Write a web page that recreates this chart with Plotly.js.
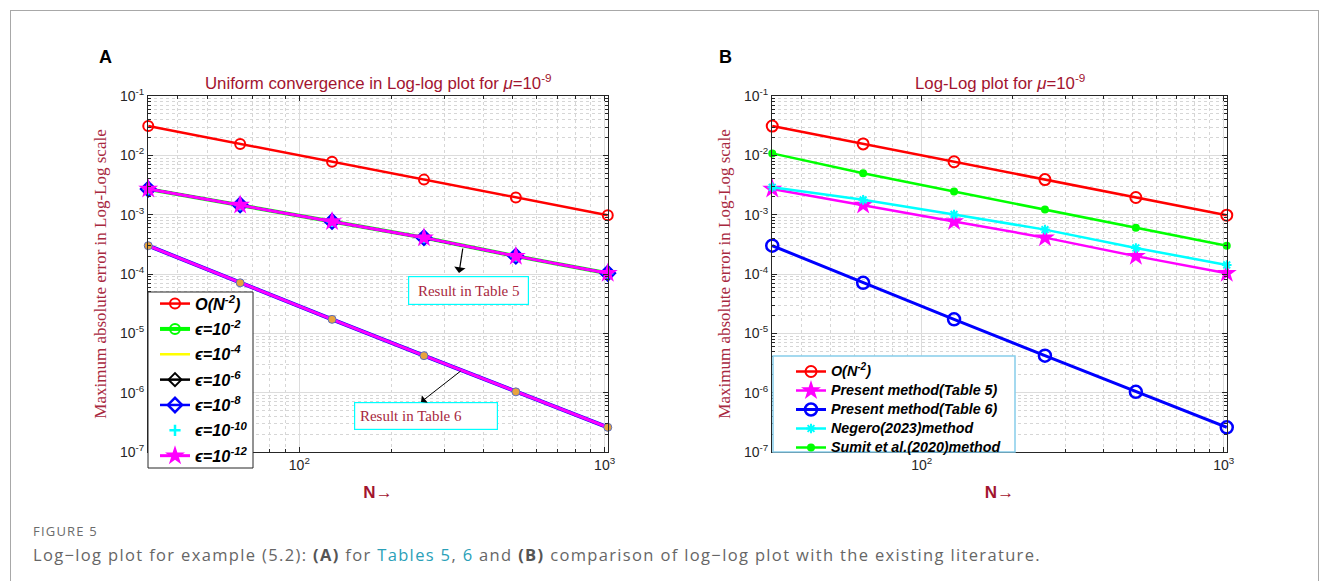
<!DOCTYPE html>
<html>
<head>
<meta charset="utf-8">
<script src="https://cdn.plot.ly/plotly-3.0.1.min.js"></script>
<style>
  html, body { margin:0; padding:0; background:#fff; }
  #wrap { position:relative; width:1330px; height:581px; overflow:hidden; }
  #frame { position:absolute; left:10px; top:10px; width:1309px; height:620px; border:1px solid #a8a8a8; box-sizing:border-box; }
  #chart { position:absolute; left:0; top:0; width:1330px; height:581px; }
  .cap1 { position:absolute; left:33px; top:522px; font-family:"Open Sans", sans-serif; font-size:13px; color:#6b6b6b; letter-spacing:1.2px; }
  .cap2 { position:absolute; left:33px; top:543px; font-family:"Open Sans", sans-serif; font-size:16.5px; color:#666; letter-spacing:1.35px; white-space:nowrap; }
  .cap2 a { color:#2aa0b8; text-decoration:none; }
  .cap2 b { color:#555; }
</style>
</head>
<body>
<div id="wrap">
  <div id="frame"></div>
  <div id="chart"></div>
  <div class="cap1">FIGURE 5</div>
  <div class="cap2">Log−log plot for example (5.2): <b>(A)</b> for <a>Tables 5</a>, <a>6</a> and <b>(B)</b> comparison of log−log plot with the existing literature.</div>
</div>
<script>
// ---------------- data ----------------
const N = [32, 64, 128, 256, 512, 1024];
const orderRef = [0.0312, 0.0156, 0.0078, 0.0039, 0.00195, 0.00098];
const table5 = [0.0027, 0.00146, 0.00077, 0.00041, 0.0002, 0.000103];
const table6 = [0.0003, 0.000071, 0.0000172, 0.0000042, 0.00000103, 0.00000026];
const negero = [0.0029, 0.00178, 0.00101, 0.00056, 0.000275, 0.000142];
const sumit = [0.0108, 0.0050, 0.00245, 0.00122, 0.0006, 0.0003];

const xTickVals = [100, 1000];
const xTickText = ['10<sup>2</sup>', '10<sup>3</sup>'];
const yTickVals = [1e-7, 1e-6, 1e-5, 1e-4, 1e-3, 1e-2, 1e-1];
const yTickText = ['10<sup>-7</sup>', '10<sup>-6</sup>', '10<sup>-5</sup>', '10<sup>-4</sup>', '10<sup>-3</sup>', '10<sup>-2</sup>', '10<sup>-1</sup>'];

const legendA = ['O(N<sup>-2</sup>)', 'ϵ=10<sup>-2</sup>', 'ϵ=10<sup>-4</sup>', 'ϵ=10<sup>-6</sup>', 'ϵ=10<sup>-8</sup>', 'ϵ=10<sup>-10</sup>', 'ϵ=10<sup>-12</sup>'];
const legendB = ['O(N<sup>-2</sup>)', 'Present method(Table 5)', 'Present method(Table 6)', 'Negero(2023)method', 'Sumit et al.(2020)method'];

// ---------------- styles ----------------
const RED = '#ff0000', GREEN = '#00ff00', YEL = '#ffff00', BLK = '#000000', BLUE = '#0000ff', CYAN = '#00ffff', MAG = '#ff00ff', ORA = '#e8a33d';
const DARKRED = '#a2142f';
const spanA = t => '<span style="font-size:16.3px">' + t + '</span>';
const spanB = t => '<span style="font-size:14.3px">' + t + '</span>';

function tr(x, y, opts) {
  return Object.assign({x: x, y: y, type: 'scatter', cliponaxis: false, hoverinfo: 'skip'}, opts);
}

const traces = [];
// Panel A
traces.push(tr(N, orderRef, {xaxis:'x', yaxis:'y', mode:'lines+markers', name: spanA(legendA[0]), legendgroup:'a0', legend:'legend',
  line:{color:RED, width:2.5}, marker:{symbol:'circle-open', size:10, color:RED, line:{width:2}}}));
traces.push(tr(N, table5, {xaxis:'x', yaxis:'y', mode:'lines+markers', name: spanA(legendA[1]), legendgroup:'a1', legend:'legend',
  line:{color:GREEN, width:4}, marker:{symbol:'circle-open', size:10, color:GREEN, line:{width:2}}}));
traces.push(tr(N, table5, {xaxis:'x', yaxis:'y', mode:'lines', name: spanA(legendA[2]), legendgroup:'a2', legend:'legend',
  line:{color:YEL, width:2.5}}));
traces.push(tr(N, table5, {xaxis:'x', yaxis:'y', mode:'lines+markers', name: spanA(legendA[3]), legendgroup:'a3', legend:'legend',
  line:{color:BLK, width:2.5}, marker:{symbol:'diamond-open', size:10, color:BLK, line:{width:2}}}));
traces.push(tr(N, table5, {xaxis:'x', yaxis:'y', mode:'lines+markers', name: spanA(legendA[4]), legendgroup:'a4', legend:'legend',
  line:{color:BLUE, width:2.5}, marker:{symbol:'diamond-open', size:11, color:BLUE, line:{width:2.5, color:BLUE}}}));
traces.push(tr(N, table5, {xaxis:'x', yaxis:'y', mode:'markers', name: spanA(legendA[5]), legendgroup:'a5', legend:'legend',
  marker:{symbol:'cross-thin', size:8, color:CYAN, line:{width:2.5, color:CYAN}}}));
traces.push(tr(N, table5, {xaxis:'x', yaxis:'y', mode:'lines+markers', name: spanA(legendA[6]), legendgroup:'a6', legend:'legend',
  line:{color:MAG, width:3}, marker:{symbol:'star', size:15, color:MAG, line:{width:0}}}));
// Panel A lower group (Table 6 results, not in legend)
traces.push(tr(N, table6, {xaxis:'x', yaxis:'y', mode:'lines', showlegend:false, line:{color:BLUE, width:4}}));
traces.push(tr(N, table6, {xaxis:'x', yaxis:'y', mode:'lines', showlegend:false, line:{color:MAG, width:3}}));
traces.push(tr(N, table6, {xaxis:'x', yaxis:'y', mode:'markers', showlegend:false,
  marker:{symbol:'circle', size:8, color:ORA, line:{width:1, color:'#5a6fc0'}}}));

// Panel B
traces.push(tr(N, orderRef, {xaxis:'x2', yaxis:'y2', mode:'lines+markers', name: spanB(legendB[0]), legend:'legend2',
  line:{color:RED, width:2.5}, marker:{symbol:'circle-open', size:11, color:RED, line:{width:2}}}));
traces.push(tr(N, table5, {xaxis:'x2', yaxis:'y2', mode:'lines+markers', name: spanB(legendB[1]), legend:'legend2',
  line:{color:MAG, width:2.5}, marker:{symbol:'star', size:15, color:MAG, line:{width:0}}}));
traces.push(tr(N, table6, {xaxis:'x2', yaxis:'y2', mode:'lines+markers', name: spanB(legendB[2]), legend:'legend2',
  line:{color:BLUE, width:3}, marker:{symbol:'circle-open', size:12, color:BLUE, line:{width:2.5}}}));
traces.push(tr(N, negero, {xaxis:'x2', yaxis:'y2', mode:'lines+markers', name: spanB(legendB[3]), legend:'legend2',
  line:{color:CYAN, width:2.5}, marker:{symbol:'asterisk-open', size:8, color:CYAN, line:{width:2, color:CYAN}}}));
traces.push(tr(N, sumit, {xaxis:'x2', yaxis:'y2', mode:'lines+markers', name: spanB(legendB[4]), legend:'legend2',
  line:{color:GREEN, width:2.5}, marker:{symbol:'circle', size:8, color:GREEN}}));

// ---------------- axes ----------------
const W = 1330, H = 581;
const px = v => v / W, py = v => 1 - v / H;
const EPS = 0.0008;

function xax(domain, anchor) {
  return {
    type:'log', domain: domain, anchor: anchor, range:[Math.log10(32) - EPS, Math.log10(1024) + EPS],
    tickvals: xTickVals, ticktext: xTickText, ticks:'inside', ticklen:5, tickcolor:'#262626',
    showline:true, linecolor:'#262626', linewidth:1, mirror:'allticks',
    showgrid:true, gridcolor:'#dcdcdc', gridwidth:1, zeroline:false,
    tickfont:{family:'Liberation Sans, Arial, sans-serif', size:14, color:'#262626'},
    minor:{dtick:'D1', ticks:'inside', ticklen:3, tickcolor:'#262626', showgrid:true, gridcolor:'#d6d6d6', griddash:'dot', gridwidth:1},
    title:{text:'<b>N→</b>', font:{family:'Liberation Sans, Arial, sans-serif', size:17, color:DARKRED}, standoff:14}
  };
}
function yax(domain, anchor) {
  return {
    type:'log', domain: domain, anchor: anchor, range:[-7 - EPS, -1 + EPS],
    tickvals: yTickVals, ticktext: yTickText, ticks:'inside', ticklen:5, tickcolor:'#262626',
    showline:true, linecolor:'#262626', linewidth:1, mirror:'allticks',
    showgrid:true, gridcolor:'#dcdcdc', gridwidth:1, zeroline:false,
    tickfont:{family:'Liberation Sans, Arial, sans-serif', size:14, color:'#262626'},
    minor:{dtick:'D1', ticks:'inside', ticklen:3, tickcolor:'#262626', showgrid:true, gridcolor:'#d6d6d6', griddash:'dot', gridwidth:1},
    title:{text:'Maximum absolute error in Log-Log scale', font:{family:'Liberation Serif, DejaVu Serif, serif', size:17, color:'#a8283e'}, standoff:8}
  };
}

const yDom = [py(452), py(96)];
const layout = {
  width: W, height: H, margin:{l:0, r:0, t:0, b:0},
  paper_bgcolor:'rgba(0,0,0,0)', plot_bgcolor:'#ffffff', showlegend:true,
  xaxis: xax([px(148), px(608)], 'y'),
  yaxis: yax(yDom, 'x'),
  xaxis2: xax([px(772), px(1227)], 'y2'),
  yaxis2: yax(yDom, 'x2'),
  legend: {x: px(155), y: py(287), xanchor:'left', yanchor:'top', bgcolor:'rgba(0,0,0,0)', borderwidth:0,
    font:{family:'Liberation Sans, Arial, sans-serif', size:15.5, color:'#000', weight:'bold', style:'italic'},
    traceorder:'grouped', tracegroupgap:2.2, itemwidth:30},
  legend2: {x: px(791), y: py(357), xanchor:'left', yanchor:'top', bgcolor:'rgba(0,0,0,0)', borderwidth:0,
    font:{family:'Liberation Sans, Arial, sans-serif', size:12.3, color:'#000', weight:'bold', style:'italic'},
    tracegroupgap:0, itemwidth:30},
  shapes: [
    {type:'rect', xref:'paper', yref:'paper', x0:px(148), x1:px(253), y0:py(468), y1:py(292), layer:'above',
     fillcolor:'#ffffff', line:{color:'#262626', width:1}},
    {type:'rect', xref:'paper', yref:'paper', x0:px(773), x1:px(1015), y0:py(452), y1:py(356), layer:'above',
     fillcolor:'#ffffff', line:{color:'#87cdea', width:1.5}}
  ],
  annotations: [
    {xref:'paper', yref:'paper', x: px(97), y: py(57), xanchor:'left', yanchor:'middle', showarrow:false,
     text:'<b>A</b>', font:{family:'Liberation Sans, Arial, sans-serif', size:18, color:'#000'}},
    {xref:'paper', yref:'paper', x: px(717), y: py(57), xanchor:'left', yanchor:'middle', showarrow:false,
     text:'<b>B</b>', font:{family:'Liberation Sans, Arial, sans-serif', size:18, color:'#000'}},
    {xref:'paper', yref:'paper', x: px(378), y: py(82), xanchor:'center', yanchor:'middle', showarrow:false,
     text:'Uniform convergence in Log-log plot for <i>μ</i>=10<sup>-9</sup>', font:{family:'Liberation Sans, Arial, sans-serif', size:16.8, color:DARKRED}},
    {xref:'paper', yref:'paper', x: px(1000), y: py(82), xanchor:'center', yanchor:'middle', showarrow:false,
     text:'Log-Log plot for <i>μ</i>=10<sup>-9</sup>', font:{family:'Liberation Sans, Arial, sans-serif', size:16.8, color:DARKRED}},
    // text boxes
    {xref:'paper', yref:'paper', x: px(468), y: py(290.5), xanchor:'center', yanchor:'middle', showarrow:false,
     text:'Result in Table 5', font:{family:'Liberation Serif, DejaVu Serif, serif', size:15, color:'#a8283e'},
     width:117, height:25, align:'center', bordercolor:CYAN, borderwidth:1.2, borderpad:1, bgcolor:'#ffffff'},
    {xref:'paper', yref:'paper', x: px(426), y: py(416), xanchor:'center', yanchor:'middle', showarrow:false,
     text:' Result in Table 6', font:{family:'Liberation Serif, DejaVu Serif, serif', size:15, color:'#a8283e'},
     width:140, height:24, align:'left', bordercolor:CYAN, borderwidth:1.2, borderpad:1, bgcolor:'#ffffff'},
    // arrows
    {xref:'paper', yref:'paper', x: px(459), y: py(273), axref:'pixel', ayref:'pixel', ax: 4, ay: -26, text:'', showarrow:true,
     arrowhead:1, arrowsize:1.6, arrowwidth:1.2, arrowcolor:'#000'},
    {xref:'paper', yref:'paper', x: px(421), y: py(402), axref:'pixel', ayref:'pixel', ax: 41, ay: -32, text:'', showarrow:true,
     arrowhead:1, arrowsize:1.6, arrowwidth:1, arrowcolor:'#000'}
  ]
};

Plotly.newPlot('chart', traces, layout, {staticPlot:true, displayModeBar:false});
</script>
</body>
</html>
